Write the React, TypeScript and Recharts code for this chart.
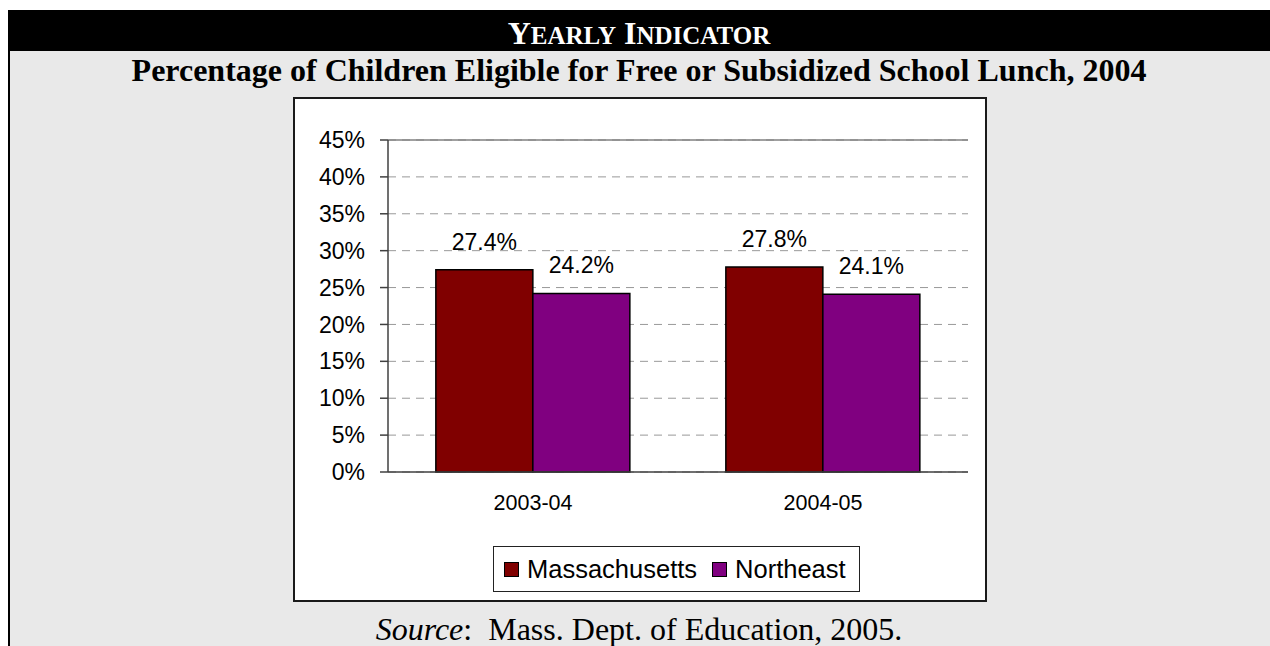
import {
  BarChart,
  Bar,
  XAxis,
  YAxis,
  CartesianGrid,
  ReferenceLine,
  LabelList,
  Legend,
} from "recharts";

const categories = ["2003-04", "2004-05"];
const massachusetts = [27.4, 27.8];
const northeast = [24.2, 24.1];
const yTicks = [0, 5, 10, 15, 20, 25, 30, 35, 40, 45];
// category boundaries for the Excel-style tick marks
const edgeTicks = [0, 1, 2];

const SERIES = [
  { key: "ma", name: "Massachusetts", color: "#800000" },
  { key: "ne", name: "Northeast", color: "#800080" },
];

const SANS = "'Liberation Sans', Arial, sans-serif";
const SERIF = "'Liberation Serif', 'Times New Roman', serif";

const data = categories.map((year, i) => ({
  year,
  ma: massachusetts[i],
  ne: northeast[i],
}));

function LegendBox() {
  return (
    <div
      style={{
        boxSizing: "border-box",
        width: 367,
        height: 46,
        border: "1px solid #222",
        background: "#fff",
        display: "flex",
        alignItems: "center",
        paddingLeft: 10,
        fontFamily: SANS,
        fontSize: 25.5,
        color: "#000",
        whiteSpace: "nowrap",
      }}
    >
      {SERIES.map((s, i) => (
        <div
          key={s.key}
          style={{
            display: "flex",
            alignItems: "center",
            marginRight: i === 0 ? 15 : 0,
          }}
        >
          <span
            style={{
              display: "inline-block",
              boxSizing: "border-box",
              width: 15,
              height: 15,
              background: s.color,
              border: "1px solid #000",
              marginRight: 8,
            }}
          />
          <span>{s.name}</span>
        </div>
      ))}
    </div>
  );
}

// hand-made small caps: big initials, smaller capitals after
function SmallCaps({ text }: { text: string }) {
  return (
    <>
      {text.split(" ").map((w, i) => (
        <span key={i}>
          {i > 0 ? " " : ""}
          <span style={{ fontSize: 32 }}>{w[0]}</span>
          <span style={{ fontSize: 25 }}>{w.slice(1).toUpperCase()}</span>
        </span>
      ))}
    </>
  );
}

export default function App() {
  return (
    <div
      style={{
        position: "absolute",
        left: 0,
        top: 0,
        width: 1270,
        height: 646,
        background: "#fff",
        overflow: "hidden",
      }}
    >
      {/* gray panel with left rule */}
      <div
        style={{
          position: "absolute",
          left: 8,
          top: 10,
          width: 1262,
          height: 636,
          background: "#e9e9e9",
          borderLeft: "2px solid #000",
          boxSizing: "border-box",
        }}
      />
      {/* black header band */}
      <div
        style={{
          position: "absolute",
          left: 8,
          top: 10,
          width: 1262,
          height: 41,
          background: "#000",
        }}
      />
      <div
        style={{
          position: "absolute",
          left: 8,
          top: 17,
          width: 1262,
          textAlign: "center",
          fontFamily: SERIF,
          fontWeight: "bold",
          fontSize: 32,
          lineHeight: "32px",
          color: "#fff",
        }}
      >
        <SmallCaps text="Yearly Indicator" />
      </div>
      <div
        style={{
          position: "absolute",
          left: 8,
          top: 54,
          width: 1262,
          textAlign: "center",
          fontFamily: SERIF,
          fontWeight: "bold",
          fontSize: 32,
          lineHeight: "32px",
          color: "#000",
        }}
      >
        Percentage of Children Eligible for Free or Subsidized School Lunch, 2004
      </div>

      {/* chart frame */}
      <div
        style={{
          position: "absolute",
          left: 293,
          top: 97,
          width: 694,
          height: 505,
          boxSizing: "border-box",
          border: "2px solid #1a1a1a",
          background: "#fff",
        }}
      >
        <BarChart
          width={690}
          height={501}
          data={data}
          margin={{ top: 41, right: 17, left: 0, bottom: 8 }}
          barCategoryGap="16.5%"
          barGap={0}
        >
          <CartesianGrid
            vertical={false}
            stroke="#999"
            strokeDasharray="8 6"
          />
          <XAxis
            xAxisId="edges"
            type="number"
            domain={[0, 2]}
            ticks={edgeTicks}
            allowDataOverflow
            height={0}
            tick={false}
            tickSize={7}
            axisLine={false}
            tickLine={{ stroke: "#404040", strokeWidth: 1.5 }}
          />
          <XAxis
            dataKey="year"
            height={74}
            tickSize={0}
            tickMargin={23}
            tickLine={false}
            axisLine={{ stroke: "#404040", strokeWidth: 1.5 }}
            tick={{ fill: "#000", fontSize: 21.5, fontFamily: SANS }}
          />
          <YAxis
            width={93}
            domain={[0, 45]}
            ticks={yTicks}
            interval={0}
            tickFormatter={(v: number) => `${v}%`}
            tickSize={8}
            tickMargin={15}
            axisLine={{ stroke: "#404040", strokeWidth: 1.5 }}
            tickLine={{ stroke: "#404040", strokeWidth: 1.5 }}
            tick={{ fill: "#000", fontSize: 23, fontFamily: SANS }}
          />
          <YAxis
            yAxisId="frame"
            orientation="right"
            width={0}
            domain={[0, 45]}
            tick={false}
            tickLine={false}
            axisLine={{ stroke: "#808080", strokeWidth: 1.5 }}
          />
          <ReferenceLine y={45} stroke="#808080" strokeWidth={1.5} />
          {SERIES.map((s) => (
            <Bar
              key={s.key}
              dataKey={s.key}
              name={s.name}
              fill={s.color}
              stroke="#000"
              strokeWidth={1.5}
              isAnimationActive={false}
            >
              <LabelList
                dataKey={s.key}
                position="top"
                offset={20}
                formatter={(v: number) => `${v.toFixed(1)}%`}
                style={{ fill: "#000", fontSize: 23, fontFamily: SANS }}
              />
            </Bar>
          ))}
          <Legend
            verticalAlign="bottom"
            content={() => <LegendBox />}
            wrapperStyle={{ left: 198, width: 367 }}
          />
        </BarChart>
      </div>

      <div
        style={{
          position: "absolute",
          left: 8,
          top: 613,
          width: 1262,
          textAlign: "center",
          fontFamily: SERIF,
          fontSize: 32,
          lineHeight: "32px",
          color: "#000",
          whiteSpace: "pre",
        }}
      >
        <i>Source</i>
        {":  Mass. Dept. of Education, 2005."}
      </div>
    </div>
  );
}
